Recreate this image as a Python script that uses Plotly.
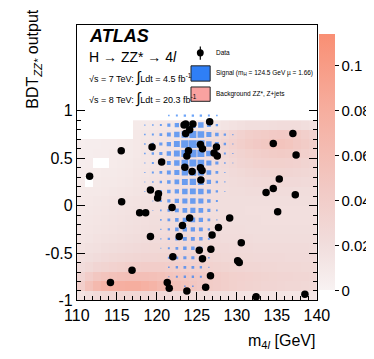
import numpy as np
import plotly.graph_objects as go

# background ZZ*, Z+jets : 1 GeV x 0.1 bins, values in units of 1e-3
m_bins = [110.5, 111.5, 112.5, 113.5, 114.5, 115.5, 116.5, 117.5, 118.5, 119.5,
          120.5, 121.5, 122.5, 123.5, 124.5, 125.5, 126.5, 127.5, 128.5, 129.5,
          130.5, 131.5, 132.5, 133.5, 134.5, 135.5, 136.5, 137.5, 138.5, 139.5]
bdt_bins = [-0.95, -0.85, -0.75, -0.65, -0.55, -0.45, -0.35, -0.25, -0.15, -0.05,
            0.05, 0.15, 0.25, 0.35, 0.45, 0.55, 0.65, 0.75, 0.85]
N = None
bkg = [
    [15, 20, 24, 26, 27, 28, 28, 28, 27, 26, 25, 24, 23, 22, 21, 20, 19, 18, 17, 16, 16, 15, 15, 14, 14, 14, 13, 13, 12, 12],
    [38, 55, 66, 72, 76, 78, 80, 80, 76, 72, 66, 60, 56, 52, 48, 45, 42, 40, 38, 36, 34, 33, 32, 30, 30, 29, 28, 28, 27, 26],
    [30, 40, 48, 52, 55, 57, 58, 58, 58, 57, 55, 52, 50, 48, 46, 44, 42, 40, 38, 36, 35, 34, 33, 32, 31, 30, 30, 29, 29, 28],
    [22, 26, 30, 32, 34, 36, 38, 39, 40, 40, 40, 39, 38, 37, 36, 35, 34, 33, 32, 31, 30, 29, 29, 28, 28, 27, 27, 27, 26, 26],
    [18, 20, 22, 24, 26, 27, 28, 29, 30, 30, 31, 31, 31, 30, 30, 29, 29, 28, 27, 27, 26, 26, 25, 25, 25, 25, 24, 24, 24, 24],
    [15, 17, 18, 20, 21, 22, 23, 24, 25, 26, 26, 27, 27, 27, 26, 26, 26, 25, 25, 24, 24, 24, 23, 23, 23, 23, 23, 23, 23, 22],
    [13, 14, 16, 17, 18, 19, 20, 21, 22, 23, 23, 24, 24, 24, 24, 23, 23, 23, 22, 22, 22, 22, 21, 21, 21, 21, 21, 21, 21, 21],
    [12, 13, 14, 15, 16, 17, 18, 19, 20, 21, 21, 22, 22, 22, 22, 22, 22, 21, 21, 21, 21, 20, 20, 20, 20, 20, 20, 20, 20, 20],
    [11, 12, 13, 14, 15, 16, 17, 18, 19, 20, 20, 21, 21, 21, 21, 21, 21, 21, 21, 20, 20, 20, 20, 19, 19, 19, 19, 19, 19, 19],
    [10, 11, 12, 13, 14, 15, 16, 17, 18, 19, 19, 20, 20, 20, 20, 20, 20, 20, 20, 20, 20, 19, 19, 19, 19, 19, 19, 19, 19, 19],
    [9, 10, 11, 12, 13, 14, 15, 16, 17, 18, 18, 19, 19, 20, 20, 20, 20, 20, 20, 20, 20, 20, 20, 20, 20, 20, 20, 20, 20, 20],
    [8, 9, 9, 10, 11, 12, 13, 14, 15, 16, 17, 18, 18, 19, 19, 20, 20, 20, 20, 21, 21, 22, 22, 22, 22, 22, 22, 21, 21, 21],
    [7, N, 8, 9, 9, 10, 11, 13, 14, 15, 16, 17, 18, 18, 19, 19, 20, 21, 21, 22, 23, 24, 25, 26, 26, 26, 25, 25, 24, 24],
    [6, 7, 7, 8, 8, 9, 10, 12, 13, 14, 15, 16, 17, 18, 18, 19, 20, 21, 22, 24, 26, 28, 29, 30, 31, 31, 30, 29, 28, 27],
    [5, 6, N, N, 7, 8, 9, 11, 12, 13, 14, 15, 16, 17, 18, 19, 20, 22, 24, 27, 30, 32, 34, 35, 36, 36, 35, 34, 32, 30],
    [5, 5, 6, 6, 7, 7, 8, 10, 12, 13, 14, 15, 16, 17, 18, 19, 21, 24, 27, 30, 33, 36, 38, 40, 42, 43, 42, 40, 37, 34],
    [4, 5, 5, 6, 6, 7, 8, 10, 12, 13, 14, 15, 16, 17, 18, 20, 23, 26, 30, 34, 38, 42, 45, 47, 50, 52, 50, 46, 42, 38],
    [N, N, N, N, N, N, N, 10, 11, 12, 13, 14, 14, 15, 16, 17, 19, 22, 26, 30, 34, 38, 40, 42, 44, 45, 44, 42, 38, 34],
    [N, N, N, N, N, N, N, 8, 8, 9, 10, 10, 10, 10, 10, 10, 11, 12, 14, 16, 18, 20, 20, 20, 21, 22, 22, 22, 20, 18],
]

# signal (m_H = 124.5 GeV), relative box size per bin
sig_m = [118.5, 119.5, 120.5, 121.5, 122.5, 123.5, 124.5, 125.5, 126.5, 127.5, 128.5, 129.5]
sig_bdt = [-0.85, -0.75, -0.65, -0.55, -0.45, -0.35, -0.25, -0.15, -0.05, 0.05,
           0.15, 0.25, 0.35, 0.45, 0.55, 0.65, 0.75, 0.85, 0.95]
sig = [
    [0, 0, 0, 0, 0, .2, .2, 0, 0, 0, 0, 0],
    [0, 0, 0, .15, .25, .3, .3, .25, .12, 0, 0, 0],
    [0, 0, 0, .2, .3, .35, .35, .3, .15, 0, 0, 0],
    [0, 0, 0, .25, .35, .4, .4, .35, .2, 0, 0, 0],
    [0, 0, .12, .25, .35, .45, .45, .4, .2, 0, 0, 0],
    [0, 0, .15, .3, .4, .5, .5, .45, .25, 0, 0, 0],
    [0, 0, .15, .3, .45, .55, .55, .5, .3, .12, 0, 0],
    [0, 0, .2, .35, .45, .55, .6, .55, .35, .15, 0, 0],
    [0, .12, .2, .35, .5, .6, .65, .6, .4, .2, 0, 0],
    [0, .12, .25, .4, .55, .65, .7, .65, .45, .25, 0, 0],
    [.12, .15, .3, .45, .55, .7, .75, .7, .5, .3, .12, 0],
    [.12, .2, .3, .45, .6, .75, .8, .75, .55, .3, .15, 0],
    [.15, .25, .35, .5, .65, .8, .85, .8, .6, .35, .15, 0],
    [.15, .25, .35, .5, .7, .85, .9, .85, .65, .4, .2, .12],
    [.2, .3, .4, .55, .75, .9, .95, .9, .7, .45, .25, .15],
    [.2, .3, .4, .55, .75, .95, 1.0, .95, .7, .5, .3, .15],
    [.2, .25, .35, .5, .7, .85, .9, .85, .65, .45, .3, .15],
    [.15, .2, .25, .4, .55, .7, .75, .7, .5, .3, 0, 0],
    [0, 0, 0, .2, .25, .3, .3, .3, .25, .2, 0, 0],
]

# data candidates
data_m = [111.6, 115.55, 115.6, 119.4, 120.6, 119.2, 120.2, 120.1, 123.4, 123.6,
          124.5, 124.1, 123.6, 126.6, 123.95, 123.75, 125.45, 125.7, 127.45, 127.15,
          127.55, 123.5, 124.4, 125.45, 125.65, 125.5, 134.55, 137.0, 137.4, 135.3,
          134.55, 133.65, 137.3, 117.85, 118.6, 121.9, 124.1, 123.2, 122.8, 119.2,
          127.7, 126.9, 129.1, 135.1, 130.55, 125.3, 126.75, 122.0, 125.7, 130.1,
          130.3, 116.9, 126.7, 114.2, 121.3, 121.55, 123.75, 126.1, 132.4, 138.5]
data_bdt = [0.31, 0.58, 0.04, 0.62, 0.46, 0.165, 0.125, 0.08, 0.85, 0.86,
            0.86, 0.80, 0.76, 0.885, 0.58, 0.525, 0.645, 0.60, 0.62, 0.555,
            0.525, 0.405, 0.36, 0.40, 0.37, 0.27, 0.655, 0.76, 0.535, 0.28,
            0.18, 0.14, 0.115, -0.075, -0.075, -0.02, -0.13, -0.21, -0.325, -0.325,
            -0.23, -0.31, -0.13, -0.065, -0.39, -0.47, -0.46, -0.54, -0.56, -0.58,
            -0.60, -0.68, -0.74, -0.81, -0.81, -0.87, -0.90, -0.86, -0.96, -0.935]

FONT = "Liberation Sans"
BLUE = "#2f7ff6"
W, H = 374, 359

z = np.array([[np.nan if v is None else v / 1000 for v in row] for row in bkg])

sx, sy, ss = [], [], []
for j, row in enumerate(sig):
    for i, v in enumerate(row):
        if v > 0:
            sx.append(sig_m[i])
            sy.append(sig_bdt[j])
            ss.append(7.8 * v)

# page-pixel helpers (margins are zero, so paper == whole page)
def px(x):
    return x / W

def py(y):
    return 1 - y / H

X0, X1 = px(60), px(318)
Y0, Y1 = py(300), py(17)

fig = go.Figure()
fig.add_trace(go.Heatmap(
    x=m_bins, y=bdt_bins, z=z, zmin=0, zmax=0.114,
    colorscale=[[0, "#f8f2f2"], [0.18, "#f1dddc"], [0.4, "#f2c9c4"],
                [0.7, "#f6ae9f"], [1, "#f98f74"]],
    hoverongaps=False,
    colorbar=dict(x=px(320), xanchor="left", xpad=0, y=Y0, yanchor="bottom",
                  len=Y1 - Y0, lenmode="fraction", thickness=16, outlinewidth=0,
                  tickvals=[0, 0.02, 0.04, 0.06, 0.08, 0.1],
                  ticktext=["0", "0.02", "0.04", "0.06", "0.08", "0.1"],
                  ticks="outside", ticklen=4, tickcolor="black",
                  tickfont=dict(family=FONT, size=15, color="black")),
))
fig.add_trace(go.Scatter(
    x=sx, y=sy, mode="markers",
    marker=dict(symbol="square", size=ss, color=BLUE, line=dict(width=0)),
    showlegend=False,
))
fig.add_trace(go.Scatter(
    x=data_m, y=data_bdt, mode="markers",
    marker=dict(symbol="circle", size=7.5, color="black"),
    showlegend=False,
))

# legend drawn by hand, ROOT style
fig.add_shape(type="line", xref="paper", yref="paper", x0=px(192.7), x1=px(192.7),
              y0=py(53), y1=py(39.5), line=dict(color="black", width=1.2))
fig.add_shape(type="circle", xref="paper", yref="paper", x0=px(189), x1=px(196.4),
              y0=py(49.7), y1=py(42.3), fillcolor="black", line=dict(color="black", width=0))
fig.add_shape(type="rect", xref="paper", yref="paper", x0=px(182.7), x1=px(203.3),
              y0=py(75), y1=py(59.3), fillcolor=BLUE, line=dict(color="#222", width=1))
fig.add_shape(type="rect", xref="paper", yref="paper", x0=px(182.7), x1=px(203.3),
              y0=py(95.7), y1=py(81), fillcolor="#f9a2a0", line=dict(color="#222", width=1))

def txt(s, x, y, size):
    fig.add_annotation(text=s, x=px(x), y=py(y), xref="paper", yref="paper", xanchor="left",
                       yanchor="middle", showarrow=False,
                       font=dict(family=FONT, size=size, color="black"))

txt("<b><i>ATLAS</i></b>", 71, 29, 18)
txt("H \u2192 ZZ* \u2192 4<i>l</i>", 71, 50, 14)
txt("\u221as = 7 TeV: <span style='font-size:15px'>\u222b</span>Ldt = 4.5 fb<sup>-1</sup>", 71, 70.5, 9)
txt("\u221as = 8 TeV: <span style='font-size:15px'>\u222b</span>Ldt = 20.3 fb<sup>-1</sup>", 71, 92.5, 9)
txt("Data", 207, 46, 6.5)
txt("Signal (m<sub>H</sub> = 124.5 GeV \u00b5 = 1.66)", 207, 67, 6.5)
txt("Background ZZ*, Z+jets", 207, 88, 6.5)

fig.add_annotation(text="m<sub>4<i>l</i></sub> [GeV]", x=X1, y=py(342), xref="paper", yref="paper",
                   xanchor="right", yanchor="middle", showarrow=False,
                   font=dict(family=FONT, size=16, color="black"))
fig.add_annotation(text="BDT<sub><i>ZZ*</i></sub> output", x=px(14), y=py(52), xref="paper", yref="paper",
                   textangle=-90, xanchor="center", yanchor="middle", showarrow=False,
                   font=dict(family=FONT, size=16, color="black"))

y_minor = [-0.9, -0.8, -0.7, -0.6, -0.4, -0.3, -0.2, -0.1, 0.1, 0.2, 0.3, 0.4, 0.6, 0.7, 0.8, 0.9]

fig.update_layout(
    width=W, height=H,
    margin=dict(l=0, r=0, t=0, b=0),
    plot_bgcolor="white", paper_bgcolor="white",
    showlegend=False,
    xaxis=dict(domain=[X0, X1], range=[110, 140], tickvals=[110, 115, 120, 125, 130, 135, 140],
               ticks="inside", ticklen=8, tickcolor="black", showgrid=False, zeroline=False,
               showline=True, linecolor="black", linewidth=1, mirror=True,
               minor=dict(dtick=1, ticks="inside", ticklen=4, tickcolor="black", showgrid=False),
               tickfont=dict(family=FONT, size=16, color="black")),
    yaxis=dict(domain=[Y0, Y1], range=[-1, 1.91], tickvals=[-1, -0.5, 0, 0.5, 1],
               ticktext=["-1", "-0.5", "0", "0.5", "1"],
               ticks="inside", ticklen=8, tickcolor="black", showgrid=False, zeroline=False,
               showline=True, linecolor="black", linewidth=1, mirror="ticks",
               minor=dict(tickmode="array", tickvals=y_minor, ticks="inside", ticklen=4,
                          tickcolor="black", showgrid=False),
               tickfont=dict(family=FONT, size=16, color="black")),
)

fig.write_html("out.html")
